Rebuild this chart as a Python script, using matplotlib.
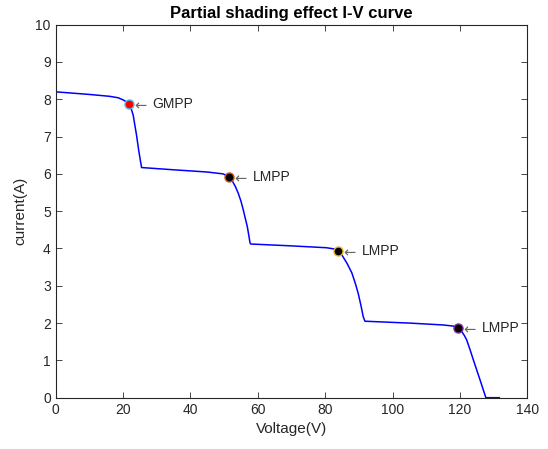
import matplotlib
matplotlib.use('Agg')
import matplotlib.pyplot as plt

# I-V curve
voltage = [0, 10, 16, 18.6, 20.1, 21.0, 21.75, 22.5, 23.0, 24.0, 24.7, 25.5,
           35, 40, 45, 49.7, 51.5, 52.5, 53.4, 54.2, 55.0, 55.7, 56.9, 57.7, 57.9,
           70, 80.4, 82.5, 83.9, 85.0, 86.5, 87.9, 89.0, 89.8, 90.6, 91.3, 91.8,
           105, 115, 118, 119.5, 120.5, 121.3, 122, 123, 124, 125, 126, 127.7, 131.7]
current = [8.20, 8.13, 8.08, 8.04, 7.98, 7.93, 7.87, 7.72, 7.58, 7.04, 6.60, 6.17,
           6.11, 6.08, 6.05, 6.00, 5.92, 5.80, 5.65, 5.48, 5.27, 5.03, 4.58, 4.15, 4.12,
           4.07, 4.02, 3.99, 3.94, 3.82, 3.60, 3.35, 3.05, 2.80, 2.48, 2.17, 2.05,
           2.00, 1.95, 1.92, 1.88, 1.78, 1.67, 1.55, 1.29, 1.01, 0.74, 0.47, 0.0, 0.0]

# power points
mpp_v = [21.75, 51.5, 83.9, 119.5]
mpp_i = [7.87, 5.92, 3.94, 1.88]
mpp_labels = ['GMPP', 'LMPP', 'LMPP', 'LMPP']
mpp_face = ['red', 'black', 'black', 'black']
mpp_edge = ['#4DBEEE', '#D95319', '#EDB120', '#7E2F8E']

plt.rcParams['font.family'] = ['Liberation Sans', 'DejaVu Sans']
txt = '#262626'

fig = plt.figure(figsize=(5.48, 4.49), dpi=100)
ax = fig.add_axes([0.1016, 0.1143, 0.8606, 0.8307])

ax.plot(voltage, current, color='blue', linewidth=1.1)
for v, i, lab, fc, ec in zip(mpp_v, mpp_i, mpp_labels, mpp_face, mpp_edge):
    ax.plot(v, i, 'o', markersize=6.5, markerfacecolor=fc,
            markeredgecolor=ec, markeredgewidth=1.0, zorder=3)
    ax.annotate('\u2190', (v, i), xytext=(3.5, -1.5), textcoords='offset points',
                ha='left', va='center', fontsize=10.5, color='#666666',
                family='DejaVu Sans')
    ax.annotate(lab, (v, i), xytext=(17, 0), textcoords='offset points',
                ha='left', va='center', fontsize=10, color=txt)

ax.set_xlim(0, 140)
ax.set_ylim(0, 10)
ax.set_xticks(range(0, 141, 20))
ax.set_yticks(range(0, 11))
ax.tick_params(direction='in', top=True, right=True, labelsize=10,
               colors=txt, length=4, width=0.6)
for s in ax.spines.values():
    s.set_color(txt)
    s.set_linewidth(0.8)

ax.set_xlabel('Voltage(V)', fontsize=11, color=txt, labelpad=4)
ax.set_ylabel('current(A)', fontsize=11, color=txt, labelpad=6)
ax.set_title('Partial shading effect I-V curve', fontsize=12, fontweight='bold',
             color='black', pad=5)

fig.savefig('out.png', dpi=100)
